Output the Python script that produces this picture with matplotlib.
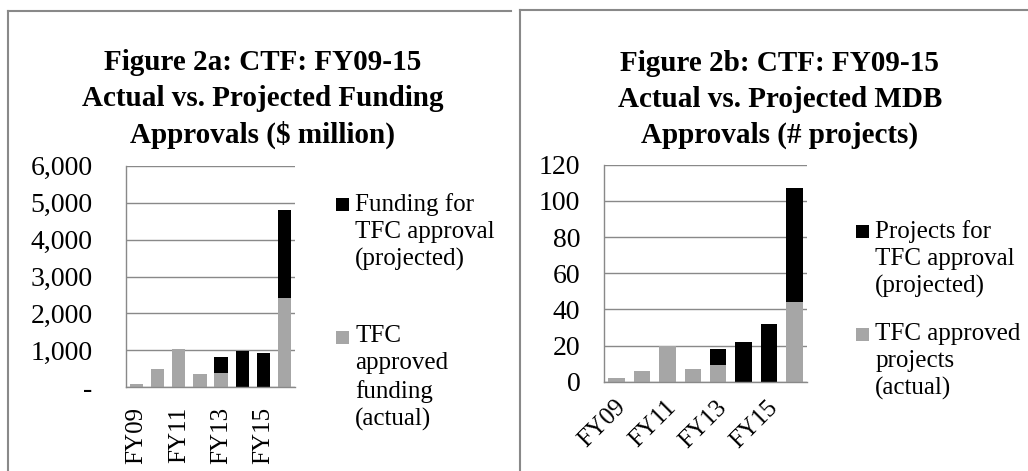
import numpy as np
import matplotlib
matplotlib.use("Agg")
import matplotlib.pyplot as plt
from matplotlib.lines import Line2D
from matplotlib.patches import Rectangle
from matplotlib.legend_handler import HandlerPatch
from matplotlib.transforms import ScaledTranslation

plt.rcParams['font.family'] = ['Liberation Serif', 'DejaVu Serif']

# data
years = ['FY09', 'FY10', 'FY11', 'FY12', 'FY13', 'FY14', 'FY15', 'FY16']
fund_actual = [100, 500, 1050, 360, 380, 0, 0, 2430]
fund_proj = [0, 0, 0, 0, 450, 985, 940, 2370]
proj_actual = [2, 6, 20, 7, 9, 0, 0, 44]
proj_proj = [0, 0, 0, 0, 9, 22, 32, 63]

fund_ticks = [0, 1000, 2000, 3000, 4000, 5000, 6000]
fund_ticklabels = ['-', '1,000', '2,000', '3,000', '4,000', '5,000', '6,000']
proj_ticks = [0, 20, 40, 60, 80, 100, 120]

title_a = 'Figure 2a: CTF: FY09-15\nActual vs. Projected Funding\nApprovals ($ million)'
title_b = 'Figure 2b: CTF: FY09-15\nActual vs. Projected MDB\nApprovals (# projects)'
leg_a = ['Funding for\nTFC approval\n(projected)', 'TFC\napproved\nfunding\n(actual)']
leg_b = ['Projects for\nTFC approval\n(projected)', 'TFC approved\nprojects\n(actual)']

GRAY = '#a6a6a6'
LINE = '#898989'
FS = 18

fig = plt.figure(figsize=(10.28, 4.71), dpi=100)

# panel borders
fig.add_artist(Line2D([8/1028, 511/1028], [1-11/471, 1-11/471], color=LINE, lw=1.5))
fig.add_artist(Line2D([8/1028, 8/1028], [0, 1-11/471], color=LINE, lw=1.5))
fig.add_artist(Line2D([520/1028, 1.0], [1-10/471, 1-10/471], color=LINE, lw=1.5))
fig.add_artist(Line2D([520/1028, 520/1028], [0, 1-10/471], color=LINE, lw=1.5))

x = np.arange(len(years))


# small square sitting at the bottom of a taller handle box
def square(legend, orig_handle, xdescent, ydescent, width, height, fontsize):
    return Rectangle((-xdescent, -ydescent), width, height * 0.7)


hmap = {Rectangle: HandlerPatch(patch_func=square)}


def setup(ax, ticks, ymax, ypad):
    ax.set_ylim(0, ymax)
    ax.set_xlim(-0.5, len(years) - 0.5)
    ax.set_yticks(ticks)
    ax.yaxis.grid(True, color=LINE, lw=1.0)
    ax.set_axisbelow(True)
    for s in ['top', 'right']:
        ax.spines[s].set_visible(False)
    for s in ['left', 'bottom']:
        ax.spines[s].set_color(LINE)
        ax.spines[s].set_linewidth(1.0)
    ax.tick_params(axis='both', length=0, labelsize=FS)
    ax.tick_params(axis='y', pad=ypad, labelsize=20)
    ax.set_xticks(x[::2])


def legend(handles, labels, anchor, spacing):
    leg = fig.legend(handles, labels, loc='upper left', bbox_to_anchor=anchor,
                     frameon=False, fontsize=FS, handlelength=0.52, handleheight=0.75,
                     handletextpad=0.25, borderpad=0, borderaxespad=0,
                     labelspacing=spacing, handler_map=hmap)
    for t in leg.get_texts():
        t.set_linespacing(1.3)
    for col in leg._legend_handle_box.get_children():
        for row in col.get_children():
            row.align = 'top'
    return leg


# left chart
ax1 = fig.add_axes([126/1028, 1-387.3/471, 169/1028, (387.3-165.7)/471])
b1 = ax1.bar(x, fund_actual, width=0.63, color=GRAY)
b2 = ax1.bar(x, fund_proj, width=0.63, bottom=fund_actual, color='black')
setup(ax1, fund_ticks, 6000, 24)
ax1.set_yticklabels(fund_ticklabels)
ax1.set_xticklabels(years[::2], rotation=90)
ax1.tick_params(axis='x', pad=14)
legend([b2[0], b1[0]], leg_a, (336/1028, 1-193/471), 2.15)
fig.text(263/1028, 1-143/471, title_a, ha='center', va='baseline', fontsize=21,
         fontweight='bold', linespacing=1.42)

# right chart
ax2 = fig.add_axes([604/1028, 1-381.7/471, 203/1028, (381.7-164.7)/471])
c1 = ax2.bar(x, proj_actual, width=0.65, color=GRAY)
c2 = ax2.bar(x, proj_proj, width=0.65, bottom=proj_actual, color='black')
setup(ax2, proj_ticks, 120, 17)
ax2.set_xticklabels(years[::2], rotation=45, ha='right', va='center', rotation_mode='anchor')
ax2.tick_params(axis='x', pad=16)
shift = ScaledTranslation(4/72, 0, fig.dpi_scale_trans)
for lab in ax2.get_xticklabels():
    lab.set_transform(lab.get_transform() + shift)
legend([c2[0], c1[0]], leg_b, (856/1028, 1-220/471), 0.98)
fig.text(780/1028, 1-143/471, title_b, ha='center', va='baseline', fontsize=21,
         fontweight='bold', linespacing=1.42)

fig.savefig('out.png', dpi=100)
